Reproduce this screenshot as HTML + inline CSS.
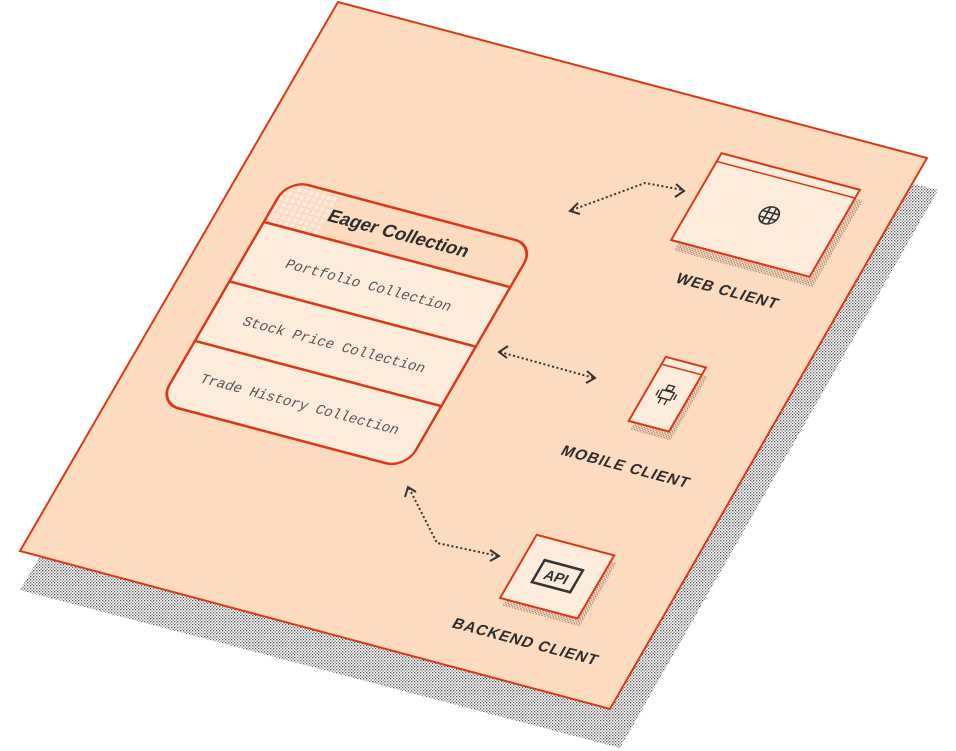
<!DOCTYPE html>
<html><head><meta charset="utf-8"><style>html,body{margin:0;padding:0;background:#fff}svg{display:block}</style></head><body>
<svg width="956" height="751" viewBox="0 0 956 751" xmlns="http://www.w3.org/2000/svg">
<defs>
<pattern id="dots" width="3" height="3" patternUnits="userSpaceOnUse"><rect x="0" y="0" width="1.3" height="1.3" fill="#555"/><rect x="1.5" y="1.5" width="1.3" height="1.3" fill="#777"/></pattern>
<pattern id="dots2" width="3" height="3" patternUnits="userSpaceOnUse"><rect x="0" y="0" width="1.2" height="1.2" fill="#9a7a66"/><rect x="1.5" y="1.5" width="1.2" height="1.2" fill="#9a7a66"/></pattern>
<pattern id="hdots" width="6" height="6" patternUnits="userSpaceOnUse"><rect x="0" y="0" width="4" height="4" fill="#fdeee2"/></pattern>
</defs>
<polygon points="348,40 938,190 620,748 20,590" fill="url(#dots)"/>
<polygon points="338,2 927,158 610,709 20,551" fill="#fddbbf" stroke="#d9391a" stroke-width="2"/>
<g transform="matrix(0.9817,0.26,-0.53,0.915,338,2)">
  <path d="M47,227 V201 a20,20 0 0 1 20,-20 H278 a20,20 0 0 1 20,20 V227 Z" fill="#fddbbf"/>
  <path d="M47,227 H298 V405 a20,20 0 0 1 -20,20 H67 a20,20 0 0 1 -20,-20 Z" fill="#fdebdc"/>
  <path d="M49,227 V201 a18,18 0 0 1 18,-18 H100 V227Z" fill="url(#hdots)" opacity="0.9"/>
  <rect x="47" y="181" width="251" height="244" rx="20" fill="none" stroke="#d9391a" stroke-width="2.5"/>
  <line x1="47" y1="227" x2="298" y2="227" stroke="#d9391a" stroke-width="2.5"/>
  <line x1="47" y1="292" x2="298" y2="292" stroke="#d9391a" stroke-width="2.5"/>
  <line x1="47" y1="357" x2="298" y2="357" stroke="#d9391a" stroke-width="2.5"/>
  <text x="172" y="210" text-anchor="middle" font-family="Liberation Sans, sans-serif" font-weight="bold" font-size="18" fill="#2d2d2d">Eager Collection</text>
  <g font-family="Liberation Mono, monospace" font-size="14" fill="#555" text-anchor="middle">
    <text x="172" y="265">Portfolio Collection</text>
    <text x="172" y="330">Stock Price Collection</text>
    <text x="172" y="395">Trade History Collection</text>
  </g>
  <rect x="424" y="56" width="141" height="95" fill="url(#dots2)"/>
  <rect x="416" y="47" width="141" height="95" fill="#fdebdc" stroke="#d9391a" stroke-width="2"/>
  <line x1="416" y1="56" x2="557" y2="56" stroke="#d9391a" stroke-width="1.5"/>
  <g transform="translate(490,94)" stroke="#333" stroke-width="1.6" fill="none">
    <circle r="9"/><line x1="-9" y1="-3" x2="9" y2="-3"/><line x1="-9" y1="3" x2="9" y2="3"/><line x1="-3" y1="-9" x2="-3" y2="9"/><line x1="3" y1="-9" x2="3" y2="9"/>
  </g>
  <text x="492" y="181" text-anchor="middle" font-family="Liberation Sans, sans-serif" font-weight="bold" font-size="15" letter-spacing="1" fill="#2d2d2d">WEB CLIENT</text>
  <rect x="477" y="262" width="41" height="70" fill="url(#dots2)"/>
  <rect x="471" y="254" width="41" height="70" fill="#fdebdc" stroke="#d9391a" stroke-width="2"/>
  <line x1="471" y1="262" x2="512" y2="262" stroke="#d9391a" stroke-width="1.5"/>
  <g transform="translate(491,290)" stroke="#333" stroke-width="1.4" fill="none">
    <rect x="-3" y="-10" width="6" height="5"/><rect x="-6" y="-4" width="12" height="8"/><line x1="-9" y1="-3" x2="-9" y2="3"/><line x1="9" y1="-3" x2="9" y2="3"/><line x1="-3" y1="4" x2="-3" y2="10"/><line x1="3" y1="4" x2="3" y2="10"/>
  </g>
  <text x="492" y="373" text-anchor="middle" font-family="Liberation Sans, sans-serif" font-weight="bold" font-size="15" letter-spacing="1" fill="#2d2d2d">MOBILE CLIENT</text>
  <rect x="454" y="462" width="79" height="69" fill="url(#dots2)"/>
  <rect x="448" y="455" width="79" height="69" fill="#fdebdc" stroke="#d9391a" stroke-width="2"/>
  <rect x="468" y="477" width="39" height="24" fill="none" stroke="#333" stroke-width="2.5"/>
  <text x="487" y="495" text-anchor="middle" font-family="Liberation Sans, sans-serif" font-weight="bold" font-size="14" fill="#333">API</text>
  <text x="493" y="564" text-anchor="middle" font-family="Liberation Sans, sans-serif" font-weight="bold" font-size="15" letter-spacing="1" fill="#2d2d2d">BACKEND CLIENT</text>
</g>
<g stroke="#333" stroke-width="2" fill="none" stroke-dasharray="2,2.5">
  <polyline points="572,210 645,183 683,190"/>
  <line x1="500" y1="352" x2="594" y2="378"/>
  <polyline points="409,488 437,543 498,556"/>
</g>
<g stroke="#333" stroke-width="2" fill="none">
  <polyline points="578,203 570,211 580,214"/>
  <polyline points="676,184 684,191 675,197"/>
  <polyline points="508,346 499,352 507,358"/>
  <polyline points="587,371 595,378 586,383"/>
  <polyline points="405,497 408,487 416,492"/>
  <polyline points="490,550 499,556 490,561"/>
</g>
</svg>
</body></html>
